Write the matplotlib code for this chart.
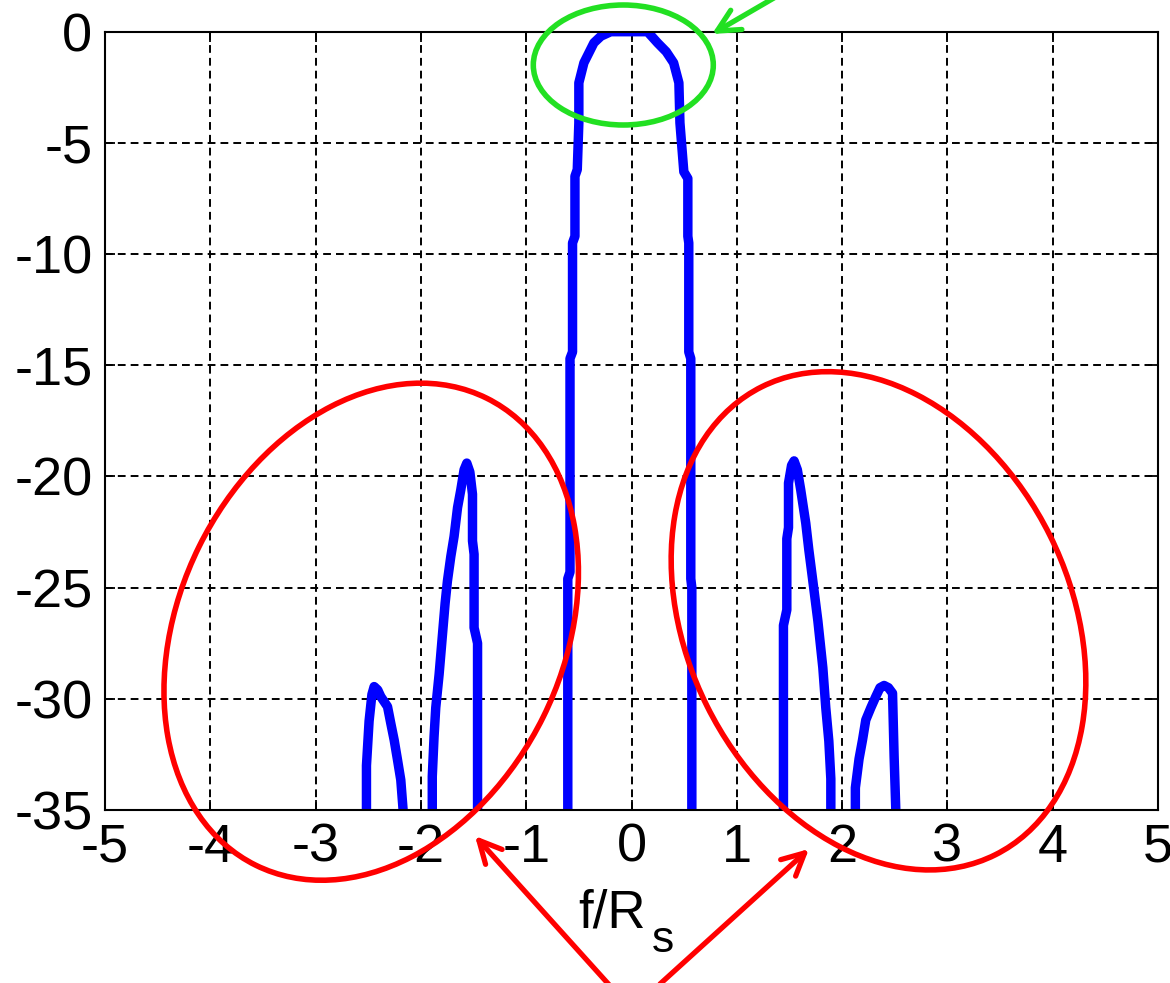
import matplotlib
matplotlib.use("Agg")
import matplotlib.pyplot as plt
from matplotlib.patches import Ellipse, FancyArrowPatch

plt.rcParams['font.family'] = ['Liberation Sans', 'DejaVu Sans']
plt.rcParams['axes.unicode_minus'] = False

# spectrum (f/Rs, dB); -60 = below the visible range
freq = [
    -2.517, -2.517, -2.492, -2.465, -2.444, -2.41, -2.381, -2.317, -2.286, -2.254, -2.222, -2.191, -2.169, -2.169,
    -1.892, -1.892, -1.875, -1.859, -1.827, -1.795, -1.770, -1.748, -1.716, -1.685, -1.652, -1.621, -1.59, -1.564,
    -1.535, -1.51, -1.51, -1.495, -1.495, -1.462, -1.462,
    -0.605, -0.605, -0.584, -0.584, -0.560, -0.560, -0.537, -0.537, -0.515, -0.50, -0.50, -0.452, -0.357, -0.29,
    -0.197, 0.152, 0.247, 0.33, 0.40, 0.45, 0.46, 0.497, 0.535, 0.535, 0.544, 0.544, 0.563, 0.563, 0.573, 0.573,
    1.443, 1.443, 1.475, 1.475, 1.491, 1.491, 1.52, 1.544, 1.575, 1.607, 1.655, 1.684, 1.722, 1.770, 1.817, 1.845,
    1.874, 1.893, 1.893,
    2.126, 2.126, 2.161, 2.194, 2.225, 2.273, 2.320, 2.36, 2.399, 2.44, 2.479, 2.494, 2.51, 2.51,
]
psd_db = [
    -60, -33.0, -31.0, -29.8, -29.45, -29.6, -29.9, -30.35, -31.1, -31.85, -32.75, -33.65, -35.0, -60,
    -60, -33.5, -31.7, -30.4, -28.9, -27.1, -25.7, -24.7, -23.6, -22.7, -21.4, -20.6, -19.7, -19.4,
    -19.8, -20.8, -22.9, -23.5, -26.8, -27.5, -60,
    -60, -24.6, -24.3, -14.7, -14.4, -9.5, -9.2, -6.5, -6.2, -4.1, -2.3, -1.4, -0.5, -0.2,
    0.0, 0.0, -0.5, -0.9, -1.4, -2.3, -4.1, -6.3, -6.6, -9.2, -9.5, -14.4, -14.7, -24.6, -25.0, -60,
    -60, -26.7, -26.0, -22.8, -22.3, -20.3, -19.5, -19.3, -19.7, -20.6, -22.1, -23.3, -24.7, -26.5, -28.6, -30.4,
    -31.9, -33.6, -60,
    -60, -34.0, -32.7, -31.85, -30.95, -30.4, -29.9, -29.5, -29.4, -29.5, -29.75, -32.6, -35.0, -60,
]
xticks = list(range(-5, 6))
yticks = list(range(-35, 1, 5))

# overlay annotations, in pixels of the 1170x983 picture (x right, y down)
W, H = 1170, 983
green_ellipse = (623.3, 65, 180, 120, 0)          # cx, cy, width, height, angle
red_ellipses = [(371.2, 631.7, 521, 384, 63.7),
                (878.5, 620.8, 523, 383, 116.5)]
green_arrow = ((798, -16), (712, 34))             # start, tip
red_arrows = [((612, 988), (475, 836)),
              ((660, 984), (809, 849))]


def px(x, y):
    return (x / 100.0, (H - y) / 100.0)


fig = plt.figure(figsize=(W / 100, H / 100), dpi=100)
ax = fig.add_axes([105 / W, (H - 810) / H, (1158 - 105) / W, (810 - 31.7) / H])

ax.plot(freq, psd_db, color='#0000ff', lw=6.8)

ax.set_xlim(-5, 5)
ax.set_ylim(-35, 0)
ax.set_xticks(xticks)
ax.set_yticks(yticks)
ax.grid(True, color='black', linestyle=(0, (4, 2.6)), lw=1.4)
ax.tick_params(direction='in', length=7, width=1.3, top=True, right=True,
               labelsize=39, pad=9, colors='black')
for s in ax.spines.values():
    s.set_linewidth(1.5)

# x label "f/Rs" with a large MATLAB-style subscript
fig.text(578 / W, (H - 927) / H, 'f/R', fontsize=38, ha='left', va='baseline')
fig.text(652 / W, (H - 952) / H, 's', fontsize=32, ha='left', va='baseline')

# annotations
cx, cy, w, h, ang = green_ellipse
fig.add_artist(Ellipse(px(cx, cy), w / 100, h / 100, angle=ang, transform=fig.dpi_scale_trans,
                       fill=False, edgecolor='#22e022', lw=4.0))
for cx, cy, w, h, ang in red_ellipses:
    fig.add_artist(Ellipse(px(cx, cy), w / 100, h / 100, angle=ang, transform=fig.dpi_scale_trans,
                           fill=False, edgecolor='#ff0000', lw=4.0))

arrows = [(green_arrow, '#22e022')] + [(a, '#ff0000') for a in red_arrows]
for (start, tip), col in arrows:
    fig.add_artist(FancyArrowPatch(px(*start), px(*tip), transform=fig.dpi_scale_trans,
                                   arrowstyle='->,head_length=1.6,head_width=0.8', mutation_scale=10,
                                   shrinkA=0, shrinkB=0, color=col, lw=3.8))

fig.savefig('out.png', dpi=100)
